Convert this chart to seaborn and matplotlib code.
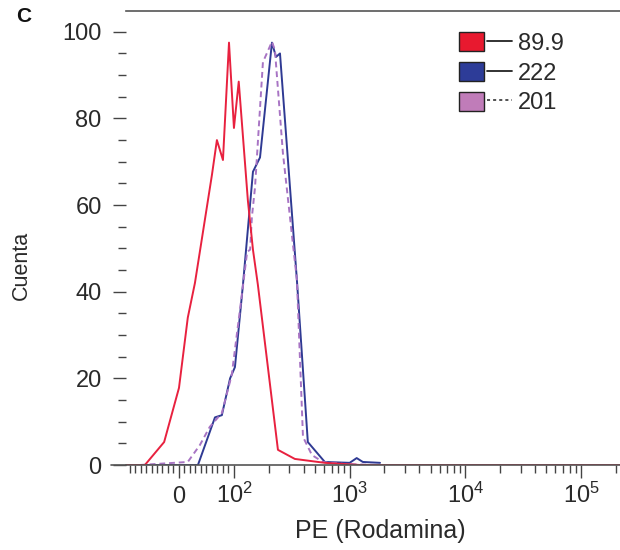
import pandas as pd
import seaborn as sns
import matplotlib.pyplot as plt
from matplotlib.patches import Patch
from matplotlib.lines import Line2D
from matplotlib.legend_handler import HandlerTuple
from matplotlib.ticker import FixedLocator, MultipleLocator, NullFormatter

# histogram outlines: PE (Rodamina) intensity vs event count
red_pe = [-96, -62, -27, 0, 16, 29, 60, 69, 80, 91, 100, 110, 132, 146, 161, 240, 336, 610, 1230, 2.2e5]
red_count = [0, 0, 5.3, 17.8, 34, 42, 67, 75, 70.4, 97.5, 77.8, 88.5, 61, 49.7, 41.6, 3.5, 1.4, 0.5, 0, 0]

blue_pe = [-62, 34.5, 65.5, 78, 93, 102, 120, 146, 168, 213, 231, 250, 350, 435, 610, 1000, 1150, 1300, 1830]
blue_count = [0, 0, 11, 11.5, 20, 22.6, 42, 67.7, 71, 97.5, 94.2, 95, 42.7, 5.3, 0.7, 0.5, 1.6, 0.7, 0.5]

pink_pe = [-71, 16, 38, 56, 78, 96, 120, 130, 138, 143, 152, 178, 213, 226, 265, 350, 395, 472, 587, 920, 1830]
pink_count = [0, 0.7, 4.6, 8.8, 12, 20.8, 41.6, 49.2, 49.7, 57.3, 64, 93, 97.7, 95.8, 72, 42.7, 6.5, 2.3, 0.7, 0.2, 0]

labels = ['89.9', '222', '201']
colors = ['#e8213f', '#2f3a93', '#a874c4']
box_colors = ['#e8192f', '#2d3c98', '#c07cb9']

df = pd.concat([
    pd.DataFrame({'pe': blue_pe, 'count': blue_count, 'muestra': labels[1]}),
    pd.DataFrame({'pe': pink_pe, 'count': pink_count, 'muestra': labels[2]}),
    pd.DataFrame({'pe': red_pe, 'count': red_count, 'muestra': labels[0]}),
])

sns.set_theme(style='ticks')
plt.rcParams['font.family'] = ['Liberation Sans', 'DejaVu Sans']
plt.rcParams['mathtext.fontset'] = 'custom'
plt.rcParams['mathtext.rm'] = 'Liberation Sans'
plt.rcParams['mathtext.it'] = 'Liberation Sans:italic'

fig = plt.figure(figsize=(6.2, 5.5), dpi=100)
ax = fig.add_axes([126 / 620, 85 / 550, 494 / 620, 454 / 550])

styles = {labels[1]: (colors[1], '-'), labels[2]: (colors[2], (0, (3, 2))), labels[0]: (colors[0], '-')}
for name, sub in df.groupby('muestra', sort=False):
    c, ls = styles[name]
    sns.lineplot(data=sub, x='pe', y='count', ax=ax, color=c, linestyle=ls,
                 lw=1.4, sort=False, estimator=None, legend=False)

ax.set_xscale('symlog', linthresh=100, linscale=0.4275, base=10)
ax.set_xlim(-96.4, 2.17e5)
ax.set_ylim(0, 104.8)

ax.xaxis.set_major_locator(FixedLocator([0, 100, 1e3, 1e4, 1e5]))
ax.set_xticklabels(['0', '$10^{2}$', '$10^{3}$', '$10^{4}$', '$10^{5}$'])
minors = [-10 * k for k in range(1, 10)] + [10 * k for k in range(1, 10)]
for dec in [100, 1e3, 1e4, 1e5]:
    minors += [dec * k for k in range(2, 10)]
ax.xaxis.set_minor_locator(FixedLocator(minors))
ax.xaxis.set_minor_formatter(NullFormatter())
ax.yaxis.set_major_locator(MultipleLocator(20))
ax.yaxis.set_minor_locator(MultipleLocator(5))

ax.tick_params(which='major', length=9.5, width=1, color='#444', labelsize=17,
               labelcolor='#2a2a2a')
ax.tick_params(which='minor', length=5.5, width=1, color='#444')
ax.tick_params(axis='y', which='major', pad=8)
ax.tick_params(axis='x', which='major', pad=18)
# keep "0" and the powers of ten on one baseline
for lbl in ax.get_xticklabels():
    lbl.set_verticalalignment('baseline')

ax.spines['left'].set_visible(False)
ax.spines['right'].set_visible(False)
for s in ['top', 'bottom']:
    ax.spines[s].set_color('#555')
    ax.spines[s].set_linewidth(1.2)
ax.plot([-0.03, 0], [0, 0], transform=ax.transAxes, color='#555', lw=1.2, clip_on=False)

ax.set_xlabel('PE (Rodamina)', fontsize=18, color='#2a2a2a')
ax.set_ylabel('Cuenta', fontsize=15.5, color='#2a2a2a')
ax.xaxis.set_label_coords(0.514, -0.12)
ax.yaxis.set_label_coords(-0.19, 0.44)

handles = [
    (Patch(facecolor=box_colors[0], edgecolor='#222', lw=1), Line2D([], [], color='#222', lw=1.3)),
    (Patch(facecolor=box_colors[1], edgecolor='#222', lw=1), Line2D([], [], color='#222', lw=1.3)),
    (Patch(facecolor=box_colors[2], edgecolor='#222', lw=1), Line2D([], [], color='#222', lw=1.1, ls=(0, (2, 2)))),
]
ax.legend(handles, labels, handler_map={tuple: HandlerTuple(ndivide=None, pad=0.15)},
          loc='upper left', bbox_to_anchor=(0.674, 0.953), frameon=False,
          fontsize=17, handlelength=2.25, handleheight=0.85, handletextpad=0.25,
          labelspacing=0.3, borderpad=0, borderaxespad=0, labelcolor='#2a2a2a')

fig.text(24 / 620, 1 - 17 / 550, 'C', fontsize=15, fontweight='bold', ha='center',
         va='center', color='#111')

fig.savefig('out.png', dpi=100)
